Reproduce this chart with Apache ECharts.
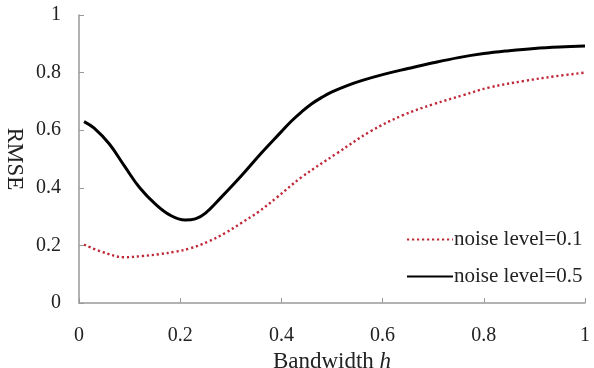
<!DOCTYPE html>
<html>
<head>
<meta charset="utf-8">
<script src="https://cdn.jsdelivr.net/npm/echarts@6/dist/echarts.min.js"></script>
<style>
  html, body { margin: 0; padding: 0; background: #fff; }
  #rmse-chart { width: 594px; height: 368px; }
</style>
</head>
<body>
<div id="rmse-chart"></div>
<script>
// values: [bandwidth h, RMSE]
const noise01 = [
  [0.01, 0.203], [0.045, 0.178], [0.09, 0.159], [0.125, 0.163], [0.16, 0.170],
  [0.19, 0.178], [0.22, 0.19], [0.255, 0.213], [0.29, 0.244], [0.32, 0.277],
  [0.355, 0.317], [0.39, 0.365], [0.44, 0.437], [0.51, 0.52], [0.575, 0.595],
  [0.64, 0.652], [0.70, 0.69], [0.76, 0.722], [0.81, 0.748], [0.88, 0.771],
  [0.94, 0.787], [1.0, 0.80]
];
const noise05 = [
  [0.01, 0.63], [0.03, 0.607], [0.06, 0.552], [0.09, 0.475], [0.12, 0.40],
  [0.15, 0.345], [0.18, 0.305], [0.21, 0.288], [0.23, 0.292], [0.25, 0.312],
  [0.28, 0.365], [0.32, 0.44], [0.36, 0.52], [0.40, 0.595], [0.42, 0.632],
  [0.44, 0.664], [0.46, 0.692], [0.48, 0.714], [0.50, 0.733], [0.53, 0.755],
  [0.56, 0.773], [0.60, 0.793], [0.65, 0.814], [0.70, 0.834], [0.75, 0.852],
  [0.80, 0.866], [0.85, 0.876], [0.90, 0.884], [0.95, 0.889], [1.0, 0.892]
];
const seriesNames = ['noise level=0.1', 'noise level=0.5'];

const serif = "'Liberation Serif', 'Times New Roman', serif";
const chart = echarts.init(document.getElementById('rmse-chart'));

const option = {
  animation: false,
  grid: { left: 79, right: 9, top: 15, bottom: 65, outerBoundsMode: 'none' },
  legend: {
    data: seriesNames,
    orient: 'vertical',
    left: 401,
    top: 224,
    itemWidth: 46,
    itemHeight: 14,
    itemGap: 16,
    itemStyle: { color: 'rgba(0,0,0,0)', borderColor: 'rgba(0,0,0,0)', borderWidth: 0 },
    textStyle: { fontFamily: serif, fontSize: 21, color: '#222', padding: [0, 0, 0, -4] }
  },
  xAxis: {
    type: 'value',
    min: 0,
    max: 1,
    interval: 0.2,
    name: 'Bandwidth {i|h}',
    nameLocation: 'middle',
    nameGap: 40,
    nameTextStyle: {
      fontFamily: serif, fontSize: 23, color: '#222',
      rich: { i: { fontFamily: serif, fontSize: 23, fontStyle: 'italic', color: '#222' } }
    },
    axisLine: { lineStyle: { color: '#999', width: 1.5 } },
    axisTick: { inside: true, length: 5, lineStyle: { color: '#999' } },
    axisLabel: { margin: 23, fontFamily: serif, fontSize: 20, color: '#222', showMaxLabel: true },
    splitLine: { show: false }
  },
  yAxis: {
    type: 'value',
    min: 0,
    max: 1,
    interval: 0.2,
    name: 'RMSE',
    nameLocation: 'middle',
    nameRotate: -90,
    nameGap: 50,
    nameTextStyle: { fontFamily: serif, fontSize: 23, color: '#222' },
    axisLine: { show: true, lineStyle: { color: '#999', width: 1.5 } },
    axisTick: { show: true, inside: true, length: 5, lineStyle: { color: '#999' } },
    axisLabel: { margin: 18, fontFamily: serif, fontSize: 20, color: '#222' },
    splitLine: { show: false }
  },
  series: [{
    name: seriesNames[0],
    type: 'line',
    data: noise01,
    smooth: 0.4,
    symbol: 'none',
    lineStyle: { color: '#c02838', width: 2.4, type: [2.2, 2.8] },
    itemStyle: { color: '#c02838' }
  }, {
    name: seriesNames[1],
    type: 'line',
    data: noise05,
    smooth: 0.4,
    symbol: 'none',
    lineStyle: { color: '#000', width: 3 },
    itemStyle: { color: '#000' }
  }]
};

chart.setOption(option);
</script>
</body>
</html>
